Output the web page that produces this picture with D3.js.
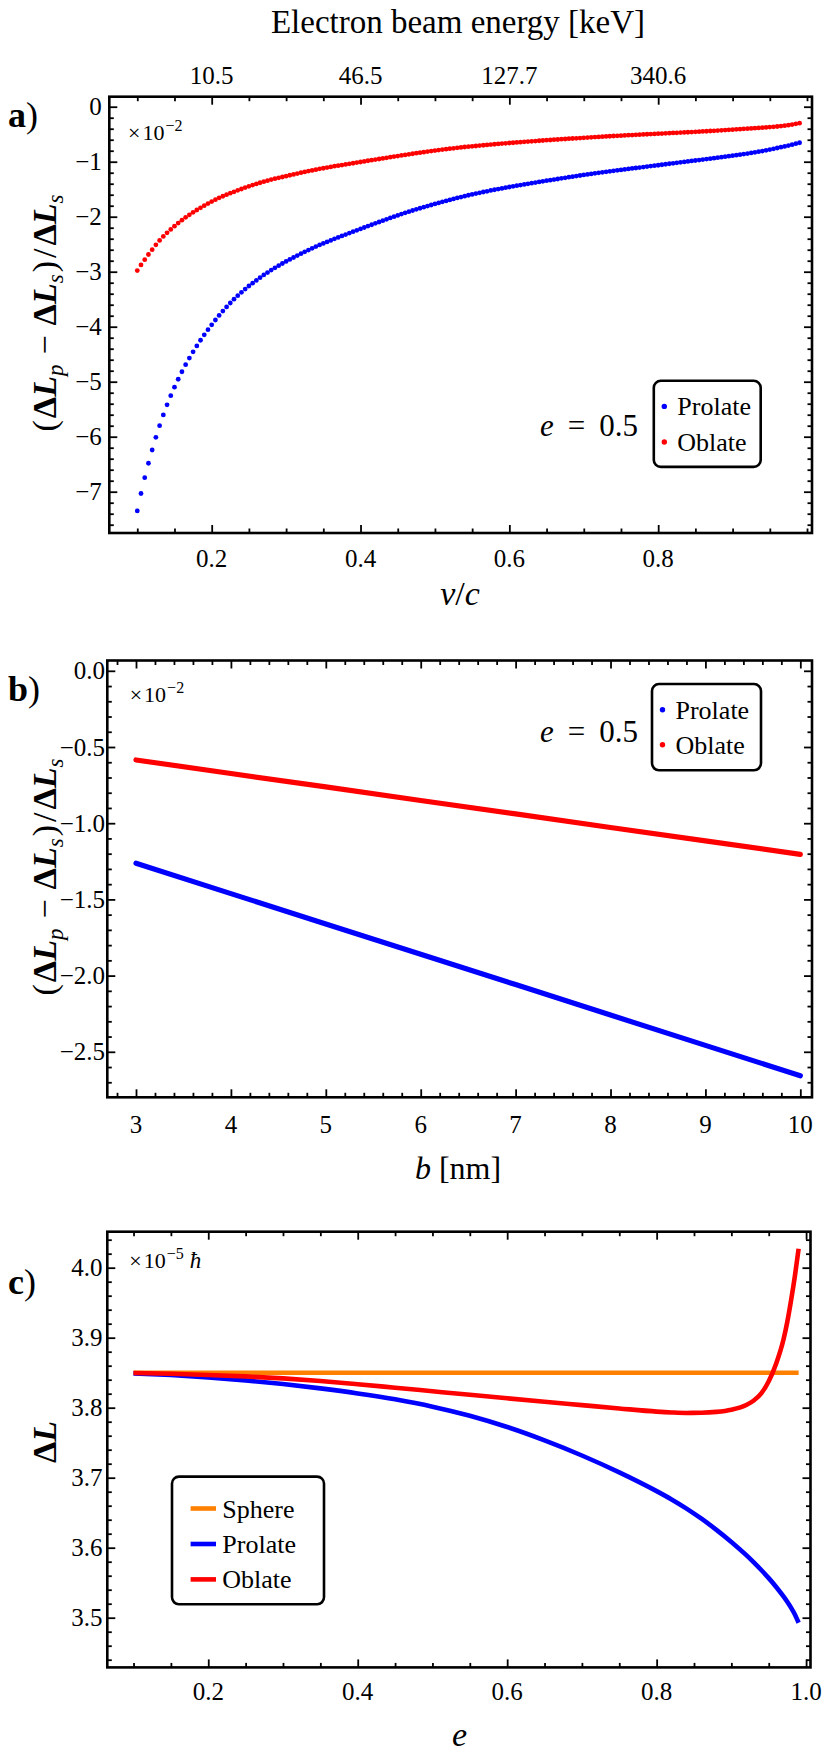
<!DOCTYPE html>
<html>
<head>
<meta charset="utf-8">
<script src="https://cdn.jsdelivr.net/npm/d3@7"></script>
<style>
  body { margin: 0; background: #fff; }
  svg { display: block; }
  svg text, svg tspan { font-family: "Liberation Serif", "Times New Roman", Tinos, "DejaVu Serif", "Noto Serif", serif; }
</style>
</head>
<body>
<script>
// ---- panel a: relative change vs v/c (e = 0.5) ----
var vc = [
  0.100,0.105,0.110,0.115,0.120,0.125,0.130,0.135,0.140,0.145,
  0.150,0.155,0.160,0.165,0.170,0.175,0.180,0.185,0.190,0.195,
  0.200,0.205,0.210,0.215,0.220,0.225,0.230,0.235,0.240,0.245,
  0.250,0.255,0.260,0.265,0.270,0.275,0.280,0.285,0.290,0.295,
  0.300,0.305,0.310,0.315,0.320,0.325,0.330,0.335,0.340,0.345,
  0.350,0.355,0.360,0.365,0.370,0.375,0.380,0.385,0.390,0.395,
  0.400,0.405,0.410,0.415,0.420,0.425,0.430,0.435,0.440,0.445,
  0.450,0.455,0.460,0.465,0.470,0.475,0.480,0.485,0.490,0.495,
  0.500,0.505,0.510,0.515,0.520,0.525,0.530,0.535,0.540,0.545,
  0.550,0.555,0.560,0.565,0.570,0.575,0.580,0.585,0.590,0.595,
  0.600,0.605,0.610,0.615,0.620,0.625,0.630,0.635,0.640,0.645,
  0.650,0.655,0.660,0.665,0.670,0.675,0.680,0.685,0.690,0.695,
  0.700,0.705,0.710,0.715,0.720,0.725,0.730,0.735,0.740,0.745,
  0.750,0.755,0.760,0.765,0.770,0.775,0.780,0.785,0.790,0.795,
  0.800,0.805,0.810,0.815,0.820,0.825,0.830,0.835,0.840,0.845,
  0.850,0.855,0.860,0.865,0.870,0.875,0.880,0.885,0.890,0.895,
  0.900,0.905,0.910,0.915,0.920,0.925,0.930,0.935,0.940,0.945,
  0.950,0.955,0.960,0.965,0.970,0.975,0.980,0.985,0.990
];
var prolateA = [
  -7.350,-7.033,-6.745,-6.483,-6.242,-6.012,-5.800,-5.604,-5.421,-5.255,
  -5.100,-4.955,-4.819,-4.691,-4.571,-4.457,-4.350,-4.246,-4.147,-4.054,
  -3.965,-3.878,-3.795,-3.716,-3.641,-3.569,-3.500,-3.436,-3.375,-3.316,
  -3.260,-3.208,-3.158,-3.108,-3.059,-3.015,-2.971,-2.930,-2.890,-2.851,
  -2.813,-2.777,-2.742,-2.706,-2.672,-2.638,-2.606,-2.575,-2.544,-2.514,
  -2.486,-2.458,-2.431,-2.403,-2.376,-2.349,-2.324,-2.297,-2.272,-2.247,
  -2.223,-2.196,-2.171,-2.146,-2.121,-2.096,-2.072,-2.047,-2.023,-1.999,
  -1.976,-1.953,-1.930,-1.909,-1.887,-1.866,-1.846,-1.826,-1.806,-1.787,
  -1.768,-1.749,-1.730,-1.713,-1.694,-1.676,-1.659,-1.643,-1.626,-1.610,
  -1.595,-1.580,-1.566,-1.551,-1.538,-1.523,-1.510,-1.497,-1.485,-1.472,
  -1.460,-1.448,-1.436,-1.424,-1.413,-1.402,-1.390,-1.379,-1.367,-1.357,
  -1.345,-1.335,-1.324,-1.314,-1.303,-1.293,-1.282,-1.272,-1.262,-1.251,
  -1.241,-1.231,-1.222,-1.212,-1.203,-1.193,-1.184,-1.175,-1.166,-1.157,
  -1.149,-1.140,-1.132,-1.123,-1.114,-1.106,-1.097,-1.089,-1.080,-1.072,
  -1.064,-1.055,-1.046,-1.037,-1.029,-1.021,-1.012,-1.004,-0.995,-0.986,
  -0.978,-0.970,-0.962,-0.953,-0.944,-0.935,-0.926,-0.917,-0.908,-0.899,
  -0.890,-0.881,-0.873,-0.862,-0.852,-0.841,-0.830,-0.818,-0.806,-0.793,
  -0.779,-0.765,-0.751,-0.736,-0.722,-0.706,-0.690,-0.672,-0.655
];
var oblateA = [
  -2.980,-2.876,-2.782,-2.687,-2.600,-2.512,-2.431,-2.359,-2.293,-2.231,
  -2.173,-2.116,-2.063,-2.012,-1.965,-1.920,-1.878,-1.838,-1.800,-1.762,
  -1.725,-1.690,-1.657,-1.628,-1.600,-1.573,-1.548,-1.521,-1.496,-1.471,
  -1.448,-1.425,-1.404,-1.383,-1.363,-1.344,-1.325,-1.309,-1.293,-1.278,
  -1.263,-1.246,-1.231,-1.216,-1.200,-1.185,-1.171,-1.158,-1.144,-1.130,
  -1.119,-1.107,-1.094,-1.082,-1.072,-1.061,-1.050,-1.039,-1.028,-1.016,
  -1.005,-0.994,-0.983,-0.972,-0.962,-0.951,-0.940,-0.929,-0.918,-0.907,
  -0.897,-0.886,-0.876,-0.866,-0.855,-0.845,-0.835,-0.826,-0.816,-0.807,
  -0.798,-0.789,-0.780,-0.772,-0.763,-0.756,-0.748,-0.741,-0.733,-0.727,
  -0.720,-0.714,-0.707,-0.701,-0.695,-0.689,-0.683,-0.677,-0.671,-0.666,
  -0.660,-0.655,-0.649,-0.644,-0.639,-0.634,-0.629,-0.624,-0.619,-0.614,
  -0.609,-0.605,-0.600,-0.596,-0.591,-0.587,-0.582,-0.578,-0.574,-0.570,
  -0.566,-0.561,-0.557,-0.553,-0.549,-0.545,-0.541,-0.537,-0.533,-0.530,
  -0.526,-0.522,-0.518,-0.515,-0.511,-0.508,-0.504,-0.501,-0.498,-0.494,
  -0.491,-0.488,-0.484,-0.481,-0.477,-0.474,-0.471,-0.468,-0.464,-0.461,
  -0.457,-0.454,-0.450,-0.446,-0.442,-0.438,-0.434,-0.430,-0.425,-0.421,
  -0.417,-0.412,-0.408,-0.403,-0.399,-0.394,-0.390,-0.385,-0.381,-0.376,
  -0.371,-0.365,-0.360,-0.353,-0.345,-0.335,-0.324,-0.312,-0.300
];
var vcTicks = [0.2, 0.4, 0.6, 0.8];
var energyLabels = ["10.5", "46.5", "127.7", "340.6"];
var ticksA = [-7, -6, -5, -4, -3, -2, -1, 0];

// ---- panel b: relative change vs impact parameter b ----
var bNm = [3, 4, 5, 6, 7, 8, 9, 10];
var prolateB = [-1.263, -1.462, -1.661, -1.860, -2.059, -2.259, -2.458, -2.657];
var oblateB = [-0.585, -0.674, -0.762, -0.851, -0.939, -1.028, -1.116, -1.205];
var ticksB = [-2.5, -2.0, -1.5, -1.0, -0.5, 0.0];

// ---- panel c: Delta L vs eccentricity ----
var ecc = [0.10,0.15,0.20,0.25,0.30,0.35,0.40,0.45,0.50,0.55,0.60,0.65,0.70,0.75,0.80,
           0.82,0.84,0.86,0.88,0.90,0.92,0.93,0.94,0.95,0.96,0.97,0.975,0.98,0.985,0.99];
var sphereC = [3.85,3.85,3.85,3.85,3.85,3.85,3.85,3.85,3.85,3.85,3.85,3.85,3.85,3.85,3.85,
               3.85,3.85,3.85,3.85,3.85,3.85,3.85,3.85,3.85,3.85,3.85,3.85,3.85,3.85,3.85];
var prolateC = [3.8490,3.8466,3.8433,3.8390,3.8338,3.8276,3.8204,3.8119,3.8015,3.7885,3.7724,3.7533,3.7317,3.7076,3.6808,
                3.6690,3.6559,3.6414,3.6255,3.6082,3.5893,3.5790,3.5681,3.5565,3.5439,3.5300,3.5224,3.5141,3.5046,3.4928];
var oblateC = [3.8495,3.8484,3.8468,3.8447,3.8419,3.8382,3.8336,3.8286,3.8235,3.8184,3.8134,3.8085,3.8037,3.7989,3.7944,
               3.7932,3.7925,3.7927,3.7940,3.7972,3.8039,3.8102,3.8204,3.8377,3.8632,3.8985,3.9235,3.9540,3.9880,4.0270];
var eTicks = [0.2, 0.4, 0.6, 0.8, 1.0];
var ticksC = [3.5, 3.6, 3.7, 3.8, 3.9, 4.0];

var BLUE = "#0000ff", RED = "#ff0000", ORANGE = "#ff8000";

var svg = d3.select("body").append("svg")
  .attr("width", 830).attr("height", 1756);

function minorTicks(lo, hi, step, majors) {
  return d3.range(lo, hi + step / 2, step)
    .map(function(v) { return +v.toFixed(4); })
    .filter(function(v) { return !majors.some(function(m) { return Math.abs(m - v) < 1e-6; }); });
}

// frame with inward ticks on all four sides
function frame(x, y, xMaj, xMin, yMaj, yMin) {
  var xl = x.range()[0], xr = x.range()[1], yb = y.range()[0], yt = y.range()[1];
  var sides = [
    [d3.axisBottom, x, 0, yb, xMaj, xMin],
    [d3.axisTop, x, 0, yt, xMaj, xMin],
    [d3.axisLeft, y, xl, 0, yMaj, yMin],
    [d3.axisRight, y, xr, 0, yMaj, yMin]
  ];
  sides.forEach(function(s) {
    [[s[5], 4.5], [s[4], 8]].forEach(function(t) {
      svg.append("g")
        .attr("transform", "translate(" + s[2] + "," + s[3] + ")")
        .call(s[0](s[1]).tickValues(t[0]).tickSize(-t[1]).tickFormat(""))
        .call(function(g) { g.select(".domain").remove(); })
        .selectAll("line").attr("stroke", "#000").attr("stroke-width", 1.8);
    });
  });
  svg.append("rect")
    .attr("x", xl).attr("y", yt).attr("width", xr - xl).attr("height", yb - yt)
    .attr("fill", "none").attr("stroke", "#000").attr("stroke-width", 2.6);
}

function xLabels(x, vals, fmt, yPos) {
  svg.append("g").selectAll("text").data(vals).join("text")
    .attr("x", function(d) { return x(d); }).attr("y", yPos)
    .attr("text-anchor", "middle").attr("font-size", 25)
    .text(fmt);
}

function yLabels(y, vals, fmt, xPos) {
  svg.append("g").selectAll("text").data(vals).join("text")
    .attr("x", xPos).attr("y", function(d) { return y(d); })
    .attr("dy", "0.34em").attr("text-anchor", "end").attr("font-size", 25)
    .text(fmt);
}

function rich(t, parts) {
  parts.forEach(function(p) {
    var s = t.append("tspan").text(p.t);
    if (p.b) s.attr("font-weight", "bold");
    if (p.i) s.attr("font-style", "italic");
    if (p.fs) s.attr("font-size", p.fs);
    if (p.dx) s.attr("dx", p.dx);
    if (p.dy) s.attr("dy", p.dy);
  });
  return t;
}

function panelTag(letter, yPos) {
  rich(svg.append("text").attr("x", 8).attr("y", yPos).attr("font-size", 36),
    [{t: letter, b: 1}, {t: ")"}]);
}

function scaleNote(xPos, yPos, exp, hbar) {
  var parts = [{t: "×"}, {t: "10", dx: 2}, {t: exp, fs: 16, dy: -9, dx: 1}];
  if (hbar) parts.push({t: "ħ", i: 1, fs: 23, dy: 9, dx: 6});
  rich(svg.append("text").attr("x", xPos).attr("y", yPos).attr("font-size", 22), parts);
}

function eValue(xEnd, yPos) {
  rich(svg.append("text").attr("x", xEnd).attr("y", yPos).attr("text-anchor", "end").attr("font-size", 31),
    [{t: "e", i: 1}, {t: "=", dx: 14}, {t: "0.5", dx: 14}]);
}

function dotLegend(x0, y0, w, h, rows) {
  svg.append("rect").attr("x", x0).attr("y", y0).attr("width", w).attr("height", h)
    .attr("rx", 7).attr("fill", "#fff").attr("stroke", "#000").attr("stroke-width", 2.6);
  rows.forEach(function(r) {
    svg.append("circle").attr("cx", x0 + 10.5).attr("cy", r[2]).attr("r", 2.7).attr("fill", r[1]);
    svg.append("text").attr("x", x0 + 23.5).attr("y", r[2] + 9).attr("font-size", 26).text(r[0]);
  });
}

var yLabelParts = [
  {t: "("}, {t: "Δ", b: 1, dx: 2}, {t: "L", b: 1, i: 1}, {t: "p", i: 1, fs: 23, dy: 7},
  {t: "−", dy: -7, dx: 10}, {t: "Δ", b: 1, dx: 10}, {t: "L", b: 1, i: 1}, {t: "s", i: 1, fs: 23, dy: 7},
  {t: ")", dy: -7, dx: 2}, {t: "/", dx: 3}, {t: "Δ", b: 1, dx: 3}, {t: "L", b: 1, i: 1},
  {t: "s", i: 1, fs: 23, dy: 7}
];

function yTitle(cy, parts) {
  rich(svg.append("text").attr("transform", "translate(56," + cy + ") rotate(-90)")
    .attr("text-anchor", "middle").attr("font-size", 34), parts);
}

// ================= panel a =================
var xA = d3.scaleLinear().domain([0.0624, 1.0067]).range([109.3, 812]);
var yA = d3.scaleLinear().domain([-7.751, 0.182]).range([533, 96.7]);

frame(xA, yA, vcTicks, minorTicks(0.1, 1.0, 0.05, vcTicks), ticksA, minorTicks(-7.6, 0, 0.2, ticksA));
xLabels(xA, vcTicks, d3.format(".1f"), 567);
yLabels(yA, ticksA, d3.format("d"), 101.8);
svg.append("g").selectAll("text").data(vcTicks).join("text")
  .attr("x", function(d) { return xA(d); }).attr("y", 84)
  .attr("text-anchor", "middle").attr("font-size", 25)
  .text(function(d, i) { return energyLabels[i]; });
svg.append("text").attr("x", 458).attr("y", 32.5).attr("text-anchor", "middle")
  .attr("font-size", 33).text("Electron beam energy [keV]");

svg.append("g").selectAll("circle").data(vc).join("circle")
  .attr("cx", function(d) { return xA(d); })
  .attr("cy", function(d, i) { return yA(prolateA[i]); })
  .attr("r", 2.4).attr("fill", BLUE);
svg.append("g").selectAll("circle").data(vc).join("circle")
  .attr("cx", function(d) { return xA(d); })
  .attr("cy", function(d, i) { return yA(oblateA[i]); })
  .attr("r", 2.4).attr("fill", RED);

panelTag("a", 126.7);
scaleNote(128, 140, "−2", false);
eValue(638, 436);
dotLegend(653.8, 380.8, 106.9, 86.1, [["Prolate", BLUE, 406.4], ["Oblate", RED, 442]]);
rich(svg.append("text").attr("x", 460).attr("y", 605).attr("text-anchor", "middle").attr("font-size", 34),
  [{t: "v", i: 1}, {t: "/"}, {t: "c", i: 1}]);
yTitle(313, yLabelParts);

// ================= panel b =================
var xB = d3.scaleLinear().domain([2.6976, 10.123]).range([107.3, 812]);
var yB = d3.scaleLinear().domain([-2.7986, 0.0676]).range([1097.3, 660.5]);

frame(xB, yB, bNm, minorTicks(2.8, 10.0, 0.2, bNm), ticksB, minorTicks(-2.7, 0, 0.1, ticksB));
xLabels(xB, bNm, d3.format("d"), 1132.7);
yLabels(yB, ticksB, d3.format(".1f"), 105);

var lineB = d3.line().x(function(d) { return xB(d[0]); }).y(function(d) { return yB(d[1]); });
[[prolateB, BLUE], [oblateB, RED]].forEach(function(s) {
  svg.append("path")
    .datum(bNm.map(function(b, i) { return [b, s[0][i]]; }))
    .attr("d", lineB).attr("fill", "none").attr("stroke", s[1])
    .attr("stroke-width", 5.2).attr("stroke-linecap", "round");
});

panelTag("b", 701.4);
scaleNote(129.7, 702, "−2", false);
eValue(638, 741.6);
dotLegend(652, 684, 109, 86.3, [["Prolate", BLUE, 709.8], ["Oblate", RED, 744.7]]);
rich(svg.append("text").attr("x", 458).attr("y", 1179).attr("text-anchor", "middle").attr("font-size", 32),
  [{t: "b", i: 1}, {t: " [nm]"}]);
yTitle(877, yLabelParts);

// ================= panel c =================
var xC = d3.scaleLinear().domain([0.0649, 1.0059]).range([107.3, 810.5]);
var yC = d3.scaleLinear().domain([3.429, 4.0514]).range([1667.4, 1231.7]);

frame(xC, yC, eTicks, minorTicks(0.1, 1.0, 0.05, eTicks), ticksC, minorTicks(3.44, 4.04, 0.02, ticksC));
xLabels(xC, eTicks, d3.format(".1f"), 1700);
yLabels(yC, ticksC, d3.format(".1f"), 102.5);

var lineC = d3.line().curve(d3.curveMonotoneX)
  .x(function(d) { return xC(d[0]); }).y(function(d) { return yC(d[1]); });
var seriesC = [["Sphere", sphereC, ORANGE], ["Prolate", prolateC, BLUE], ["Oblate", oblateC, RED]];
seriesC.forEach(function(s) {
  svg.append("path")
    .datum(ecc.map(function(e, i) { return [e, s[1][i]]; }))
    .attr("d", lineC).attr("fill", "none").attr("stroke", s[2])
    .attr("stroke-width", 4.6);
});

panelTag("c", 1294);
scaleNote(129.3, 1267.7, "−5", true);
rich(svg.append("text").attr("x", 459.5).attr("y", 1746).attr("text-anchor", "middle").attr("font-size", 34),
  [{t: "e", i: 1}]);
yTitle(1442, [{t: "Δ", b: 1}, {t: "L", b: 1, i: 1}]);

// legend c
svg.append("rect").attr("x", 172).attr("y", 1476.6).attr("width", 152).attr("height", 127.7)
  .attr("rx", 7).attr("fill", "#fff").attr("stroke", "#000").attr("stroke-width", 2.6);
seriesC.forEach(function(s, i) {
  var ly = [1508.5, 1544, 1579.4][i];
  svg.append("line").attr("x1", 190.6).attr("x2", 216).attr("y1", ly).attr("y2", ly)
    .attr("stroke", s[2]).attr("stroke-width", 4.6);
  svg.append("text").attr("x", 222.3).attr("y", ly + 9).attr("font-size", 26).text(s[0]);
});
</script>
</body>
</html>
